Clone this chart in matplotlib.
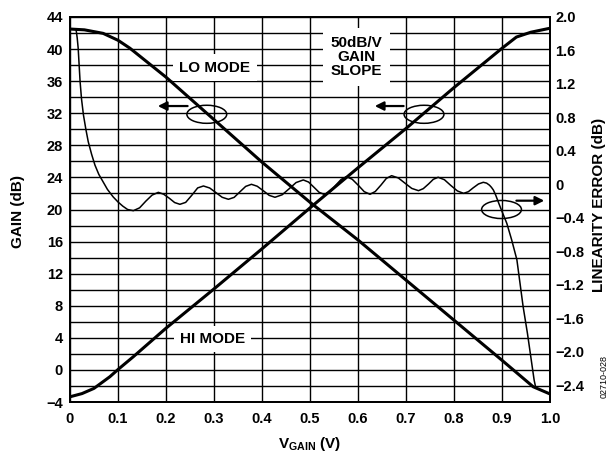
import matplotlib
matplotlib.use('Agg')
import matplotlib.pyplot as plt
from matplotlib.patches import Ellipse

plt.rcParams['font.family'] = ['Liberation Sans', 'DejaVu Sans']
plt.rcParams['font.weight'] = 'bold'
plt.rcParams['mathtext.fontset'] = 'custom'
plt.rcParams['mathtext.rm'] = 'Liberation Sans:bold'
plt.rcParams['mathtext.bf'] = 'Liberation Sans:bold'

# gain curves (left axis, dB)
lo_v = [0.0, 0.03, 0.069, 0.1, 0.125, 0.2, 0.285, 0.4, 0.5, 0.6, 0.7, 0.8, 0.9, 0.965, 1.0]
lo_gain = [42.5, 42.4, 41.96, 41.1, 40.1, 36.5, 32.0, 25.9, 20.9, 16.2, 11.2, 6.2, 1.2, -2.1, -3.0]

hi_v = [0.0, 0.025, 0.05, 0.083, 0.1, 0.132, 0.2, 0.3, 0.4, 0.5, 0.6, 0.7, 0.8, 0.9, 0.93, 0.96, 1.0]
hi_gain = [-3.35, -2.95, -2.3, -0.85, 0.05, 1.65, 5.2, 10.1, 15.1, 20.2, 25.2, 30.1, 35.2, 40.1, 41.5, 42.1, 42.6]

# linearity error (right axis, dB)
err_v = [0.0125, 0.015, 0.017, 0.019, 0.021, 0.024, 0.028, 0.033, 0.038, 0.045, 0.052, 0.06,
         0.068, 0.078, 0.09, 0.1, 0.11, 0.12, 0.132,
         0.145, 0.158, 0.171, 0.184, 0.195, 0.207, 0.218, 0.229, 0.241, 0.254, 0.266, 0.278,
         0.291, 0.304, 0.317, 0.33, 0.342, 0.354, 0.366, 0.378, 0.39, 0.403, 0.415, 0.427,
         0.442, 0.457, 0.471, 0.486, 0.497, 0.508, 0.519, 0.53, 0.542, 0.553, 0.565, 0.576,
         0.588, 0.601, 0.613, 0.625, 0.636, 0.648, 0.659, 0.67, 0.684, 0.698, 0.712, 0.726,
         0.736, 0.747, 0.757, 0.767, 0.78, 0.793, 0.807, 0.82, 0.83, 0.84, 0.851, 0.861,
         0.868, 0.874, 0.878, 0.882, 0.887, 0.892, 0.897, 0.903, 0.91, 0.92, 0.931,
         0.9375, 0.944, 0.953, 0.96, 0.967, 0.97]
err_db = [1.857, 1.75, 1.63, 1.43, 1.23, 1.02, 0.83, 0.66, 0.51, 0.36, 0.23, 0.12,
          0.04, -0.06, -0.15, -0.21, -0.26, -0.30, -0.314,
          -0.28, -0.20, -0.128, -0.095, -0.117, -0.166, -0.217, -0.238, -0.215, -0.128, -0.042, -0.019,
          -0.043, -0.098, -0.154, -0.178, -0.155, -0.089, -0.024, 0.001, -0.022, -0.077, -0.131, -0.154,
          -0.124, -0.05, 0.022, 0.053, 0.028, -0.033, -0.095, -0.12, -0.088, -0.014, 0.06, 0.092,
          0.061, -0.013, -0.087, -0.118, -0.085, -0.007, 0.071, 0.104, 0.077, 0.014, -0.048, -0.075,
          -0.051, 0.005, 0.061, 0.085, 0.056, -0.011, -0.078, -0.107, -0.087, -0.041, 0.005, 0.025,
          0.015, -0.01, -0.035, -0.067, -0.13, -0.206, -0.28, -0.366, -0.465, -0.66, -0.90,
          -1.18, -1.46, -1.78, -2.06, -2.34, -2.42]

x_ticks = [0, 0.1, 0.2, 0.3, 0.4, 0.5, 0.6, 0.7, 0.8, 0.9, 1.0]
x_labels = ['0', '0.1', '0.2', '0.3', '0.4', '0.5', '0.6', '0.7', '0.8', '0.9', '1.0']
gain_ticks = list(range(-4, 45, 4))
err_ticks = [-2.4, -2.0, -1.6, -1.2, -0.8, -0.4, 0.0, 0.4, 0.8, 1.2, 1.6, 2.0]

fs = 10.5
fl = 11
fig = plt.figure(figsize=(6.09, 4.53), dpi=100)
ax = fig.add_axes([70 / 609, 1 - 402 / 453, 480 / 609, 385 / 453])
ax2 = ax.twinx()

ax.set_xlim(0, 1.0)
ax.set_ylim(-4, 44)
ax2.set_ylim(-2.6, 2.0)

ax.set_xticks(x_ticks)
ax.set_xticklabels(x_labels)
ax.set_yticks(gain_ticks)
ax.set_yticklabels([str(t).replace('-', '\u2212') for t in gain_ticks])
ax.set_yticks(range(-4, 45, 2), minor=True)
ax2.set_yticks(err_ticks)
ax2.set_yticklabels(['0' if t == 0 else ('%.1f' % t).replace('-', '\u2212') for t in err_ticks])

ax.grid(which='both', color='k', lw=1.0)
ax.set_axisbelow(True)
ax.tick_params(which='both', length=0, labelsize=fs)
ax.tick_params(axis='x', pad=7)
ax.tick_params(axis='y', pad=5)
ax2.tick_params(length=0, labelsize=fs, pad=4)
for a in (ax, ax2):
    for s in a.spines.values():
        s.set_linewidth(1.3)

ax.plot(lo_v, lo_gain, color='k', lw=2.2, zorder=3)
ax.plot(hi_v, hi_gain, color='k', lw=2.2, zorder=3)
ax2.plot(err_v, err_db, color='k', lw=1.1, zorder=3)

box = dict(boxstyle='square,pad=0.4', fc='white', ec='none')
ax.text(0.302, 37.7, 'LO MODE', ha='center', va='center', fontsize=fl, bbox=box, zorder=2)
ax.text(0.297, 3.9, 'HI MODE', ha='center', va='center', fontsize=fl, bbox=box, zorder=2)
ax.text(0.597, 39.0, '50dB/V\nGAIN\nSLOPE', ha='center', va='center', fontsize=fl,
        linespacing=1.0, bbox=dict(boxstyle='square,pad=0.5', fc='white', ec='none'), zorder=2)

for cx, cy in [(0.285, 31.87), (0.7375, 31.87), (0.899, 20.0)]:
    ax.add_patch(Ellipse((cx, cy), 0.083, 2.25, fill=False, ec='k', lw=1.1, zorder=4))

arrow = dict(arrowstyle='-|>', color='k', lw=1.6, mutation_scale=13, shrinkA=0, shrinkB=0)
ax.annotate('', xy=(0.183, 32.9), xytext=(0.245, 32.9), arrowprops=arrow, zorder=4)
ax.annotate('', xy=(0.635, 32.9), xytext=(0.695, 32.9), arrowprops=arrow, zorder=4)
ax.annotate('', xy=(0.988, 21.1), xytext=(0.93, 21.1), arrowprops=arrow, zorder=4)

fig.text(18 / 609, 1 - 212 / 453, 'GAIN (dB)', rotation=90, ha='center', va='center', fontsize=fl)
fig.text(599 / 609, 1 - 205 / 453, 'LINEARITY ERROR (dB)', rotation=90, ha='center', va='center', fontsize=fl)
fig.text(310 / 609, 1 - 444 / 453, r'$\mathbf{V_{GAIN}}$ (V)', ha='center', va='center', fontsize=fl)
fig.text(604 / 609, 1 - 376 / 453, '02710-028', rotation=90, ha='center', va='center',
         fontsize=6.5, fontweight='normal')

fig.savefig('out.png', dpi=100)
